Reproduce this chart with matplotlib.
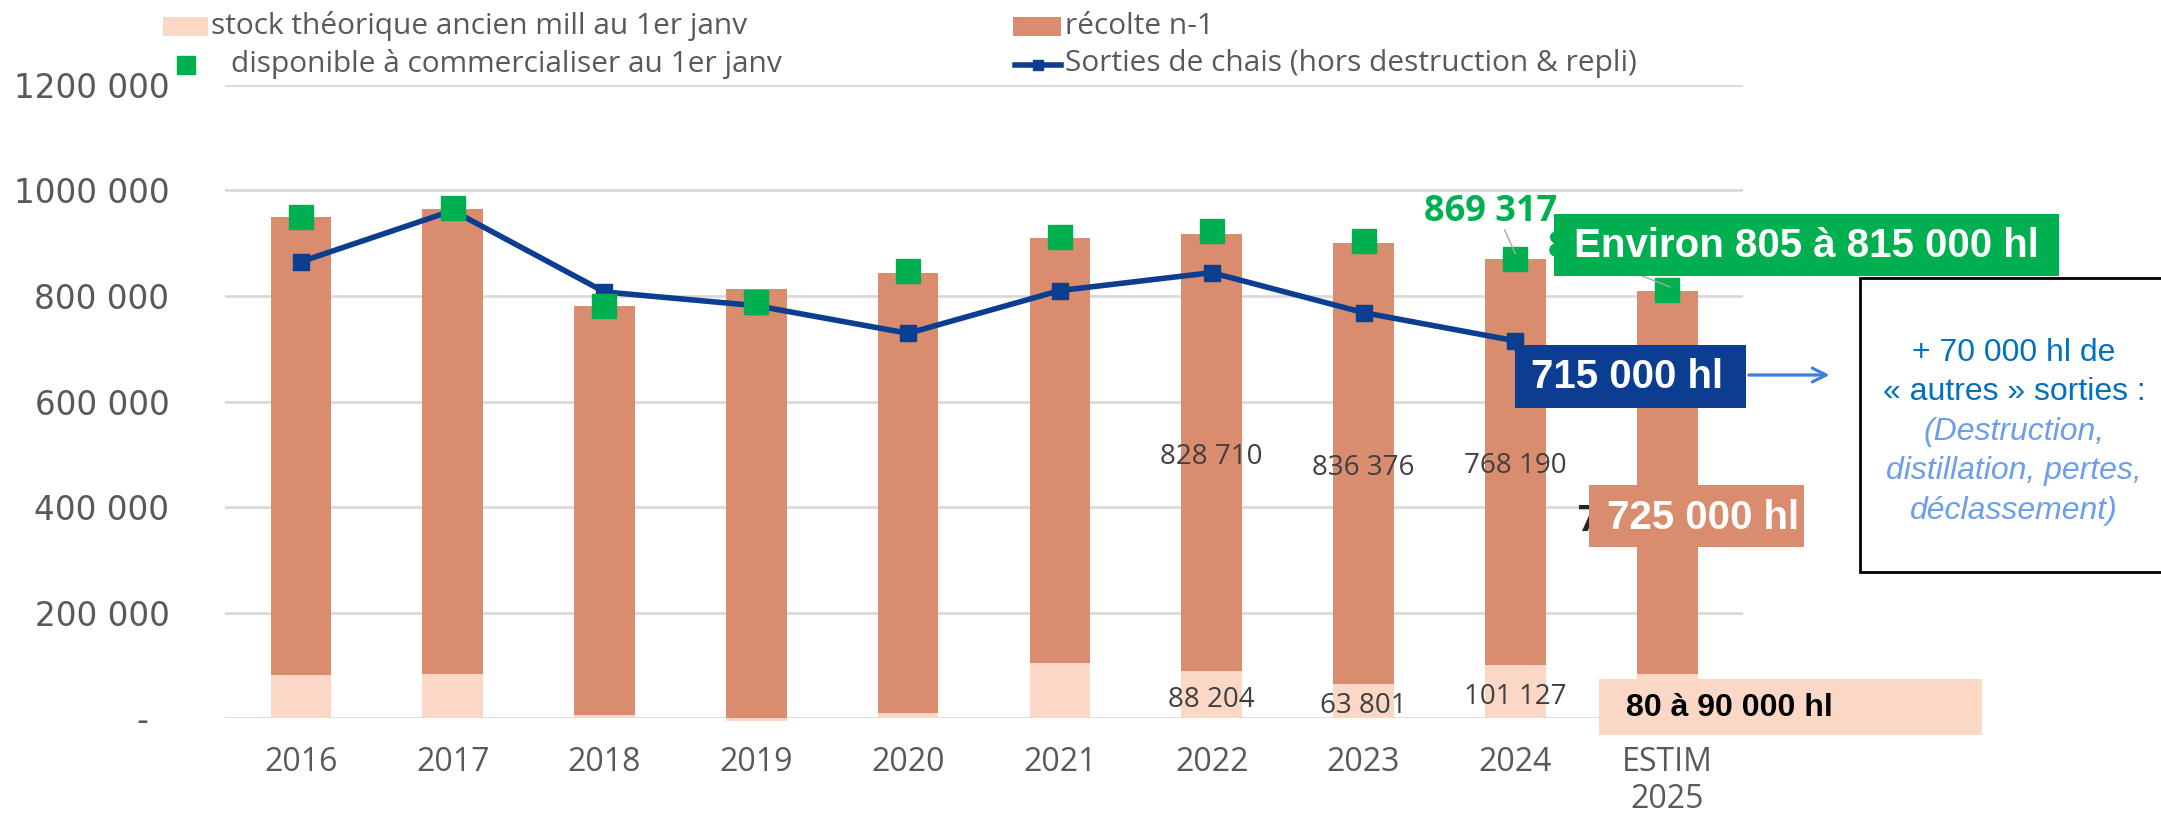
import matplotlib.pyplot as plt
from matplotlib.patches import Rectangle
from matplotlib.lines import Line2D
import numpy as np

# data (hl)
years = ['2016', '2017', '2018', '2019', '2020', '2021', '2022', '2023', '2024', 'ESTIM\n2025']
stock = [81000, 83600, 5000, -6000, 10000, 104600, 88204, 63801, 101127, 84000]
recolte = [868000, 881000, 776600, 813000, 834300, 805000, 828710, 836376, 768190, 725000]
disponible = [950000, 966000, 781600, 789000, 847000, 912000, 922700, 904400, 869317, 812000]
sorties = [865000, 962000, 807700, 781600, 729300, 810300, 844300, 768500, 715000]
yticks = [0, 200000, 400000, 600000, 800000, 1000000, 1200000]
ytick_labels = ['-  ', '200 000', '400 000', '600 000', '800 000', '1000 000', '1200 000']

c_stock = '#FBD8C6'
c_rec = '#D98C6E'
c_green = '#00B050'
c_blue = '#0B3D91'
c_grey = '#595959'
narrow = ['Liberation Sans Narrow', 'Liberation Sans', 'DejaVu Sans']
sans = ['Open Sans', 'DejaVu Sans']
W, H = 2161, 814

fig = plt.figure(figsize=(21.61, 8.14), dpi=100)
ax = fig.add_axes([0.1041, 0.1179, 0.7025, 0.7777])

x = np.arange(len(years))
ax.bar(x, stock, width=0.4, color=c_stock, zorder=2, clip_on=False)
bottom = np.maximum(stock, 0)
ax.bar(x, recolte, width=0.4, bottom=bottom, color=c_rec, zorder=2)
ax.plot(x[:len(sorties)], sorties, color=c_blue, lw=4, marker='s', ms=11,
        zorder=3)
ax.plot(x, disponible, ls='none', marker='s', ms=17, color=c_green, zorder=4)

ax.set_xlim(-0.5, len(years) - 0.5)
ax.set_ylim(0, 1200000)
ax.set_yticks(yticks, labels=ytick_labels)
ax.set_xticks(x, labels=years)
ax.yaxis.grid(True, color='#D9D9D9', lw=2)
ax.set_axisbelow(True)
for s in ax.spines.values():
    s.set_visible(False)
ax.tick_params(length=0)
ax.tick_params(axis='y', labelsize=23.5, labelcolor=c_grey, pad=40)
ax.tick_params(axis='x', labelsize=23, labelcolor=c_grey, pad=20)
for lab in ax.get_xticklabels():
    lab.set_family(sans)
    lab.set_linespacing(1.15)

# bar labels (2022-2024)
for i in [6, 7, 8]:
    ax.text(x[i], stock[i] + recolte[i] / 2 - 8000, f"{recolte[i]:,}".replace(',', ' '),
            ha='center', va='center', fontsize=20, color='#404040',
            family=sans, zorder=5)
    ax.text(x[i], stock[i] / 2 - 10000, f"{stock[i]:,}".replace(',', ' '),
            ha='center', va='center', fontsize=20, color='#404040',
            family=sans, zorder=5)

# green label 2024 + leader
ax.text(7.84, 960000, '869 317', ha='center', va='center', fontsize=26,
        fontweight='bold', color=c_green, family=sans, zorder=5, clip_on=False)
ax.plot([7.93, 8.0], [925000, 880000], color='#A6A6A6', lw=1, zorder=5)
# labels partly hidden behind the boxes
fig.text(1548 / W, 1 - 248 / H, '815 000', ha='left', va='center',
         fontsize=26, fontweight='bold', color=c_green, family=sans, zorder=5)
fig.text(1578 / W, 1 - 522 / H, '725 000', ha='left', va='center',
         fontsize=26, fontweight='bold', color='#262626', family=sans, zorder=5)

def box(x0, y0, x1, y1, fc, ec='none', lw=0, z=6):
    r = Rectangle((x0 / W, 1 - y1 / H), (x1 - x0) / W, (y1 - y0) / H,
                  transform=fig.transFigure, fc=fc, ec=ec, lw=lw, zorder=z,
                  clip_on=False)
    fig.add_artist(r)

# green box
fig.add_artist(Line2D([1640 / W, 1670 / W], [1 - 275 / H, 1 - 287 / H],
                      color='#A6A6A6', lw=1, zorder=6))
box(1554, 214, 2059, 276, c_green)
fig.text(1574 / W, 1 - 246 / H, 'Environ 805 à 815 000 hl', ha='left',
         va='center', fontsize=29, fontweight='bold', color='white',
         family=narrow, zorder=7)
# blue box + arrow
box(1515, 345, 1746, 408, c_blue)
fig.text(1531 / W, 1 - 377 / H, '715 000 hl', ha='left', va='center',
         fontsize=29, fontweight='bold', color='white', family=narrow, zorder=7)
fig.add_artist(plt.annotate('', xy=(1832 / W, 1 - 375 / H),
                            xytext=(1746 / W, 1 - 375 / H),
                            xycoords='figure fraction',
                            arrowprops=dict(arrowstyle='->', color='#3C7FE0',
                                            lw=2, mutation_scale=25)))
# explanatory box
box(1860, 278, 2175, 572, 'white', ec='black', lw=2)
lines = [('+ 70 000 hl de', '#0070C0', 'normal'),
         ('« autres » sorties :', '#0070C0', 'normal'),
         ('(Destruction,', '#6D9EEB', 'italic'),
         ('distillation, pertes,', '#6D9EEB', 'italic'),
         ('déclassement)', '#6D9EEB', 'italic')]
for k, (t, c, st) in enumerate(lines):
    fig.text(2014 / W, 1 - (353 + k * 39.5) / H, t, ha='center', va='center',
             fontsize=23, color=c, style=st, family=narrow, zorder=7)
# 725 box
box(1589, 485, 1804, 547, c_rec)
fig.text(1607 / W, 1 - 518 / H, '725 000 hl', ha='left', va='center',
         fontsize=29, fontweight='bold', color='white', family=narrow, zorder=7)
# 80-90 box
box(1599, 679, 1982, 735, c_stock)
fig.text(1626 / W, 1 - 708 / H, '80 à 90 000 hl', ha='left', va='center',
         fontsize=23, fontweight='bold', color='black', family=narrow, zorder=7)

# legend, placed entry by entry like the original
leg_font = dict(fontsize=21.5, color=c_grey, family=sans, va='center', ha='left')
box(163, 17, 208, 36, c_stock, z=3)
fig.text(211 / W, 1 - 26 / H, 'stock théorique ancien mill au 1er janv', **leg_font)
box(1013, 17, 1061, 36, c_rec, z=3)
fig.text(1065 / W, 1 - 26 / H, 'récolte n-1', **leg_font)
fig.add_artist(Line2D([186 / W], [1 - 65 / H], ls='none', marker='s', ms=13,
                      color=c_green))
fig.text(231 / W, 1 - 64 / H, 'disponible à commercialiser au 1er janv', **leg_font)
fig.add_artist(Line2D([1015 / W, 1061 / W], [1 - 65 / H, 1 - 65 / H], color=c_blue,
                      lw=4))
fig.add_artist(Line2D([1038 / W], [1 - 65 / H], ls='none', marker='s', ms=7,
                      color=c_blue))
fig.text(1065 / W, 1 - 64 / H, 'Sorties de chais (hors destruction & repli)', **leg_font)

fig.savefig('out.png', dpi=100)
